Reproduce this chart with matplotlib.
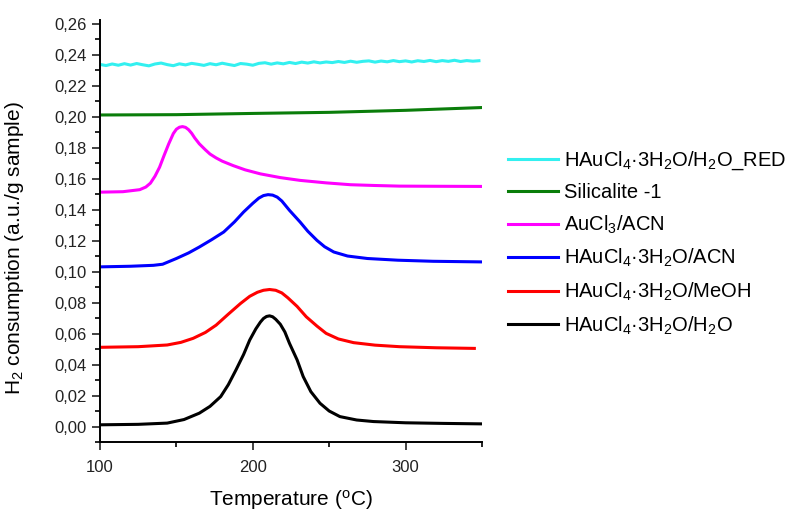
import matplotlib
matplotlib.use('Agg')
import matplotlib.pyplot as plt
from matplotlib.ticker import MultipleLocator, FuncFormatter

plt.rcParams['font.family'] = ['Liberation Sans', 'DejaVu Sans']
plt.rcParams['mathtext.fontset'] = 'custom'
plt.rcParams['mathtext.rm'] = 'Liberation Sans'
plt.rcParams['mathtext.it'] = 'Liberation Sans:italic'
plt.rcParams['mathtext.bf'] = 'Liberation Sans:bold'

# HAuCl4.3H2O/H2O_RED (cyan, noisy flat)
t_red = [100, 104, 108, 112, 116, 120, 124, 128, 132, 136, 140, 144, 148, 152, 156, 160,
         164, 168, 172, 176, 180, 184, 188, 192, 196, 200, 204, 208, 212, 216, 220, 224,
         228, 232, 236, 240, 244, 248, 252, 256, 260, 264, 268, 272, 276, 280, 284, 288,
         292, 296, 300, 304, 308, 312, 316, 320, 324, 328, 332, 336, 340, 344, 348]
y_red = [0.2336, 0.2329, 0.2339, 0.2331, 0.2341, 0.2332, 0.2342, 0.2334, 0.2327, 0.2339,
         0.2345, 0.2335, 0.2328, 0.2340, 0.2333, 0.2343, 0.2337, 0.2330, 0.2341, 0.2334,
         0.2344, 0.2336, 0.2329, 0.2342, 0.2338, 0.2331, 0.2343, 0.2347, 0.2338, 0.2346,
         0.2340, 0.2349, 0.2342, 0.2351, 0.2345, 0.2353, 0.2346, 0.2352, 0.2348, 0.2355,
         0.2349, 0.2357, 0.2350, 0.2356, 0.2359, 0.2351, 0.2358, 0.2353, 0.2361, 0.2354,
         0.2359, 0.2352, 0.2360, 0.2355, 0.2362, 0.2354, 0.2361, 0.2356, 0.2363, 0.2355,
         0.2361, 0.2357, 0.2360]

# Silicalite-1 (green)
t_sil = [100, 150, 200, 250, 300, 325, 350]
y_sil = [0.2010, 0.2012, 0.2020, 0.2027, 0.2040, 0.2049, 0.2058]

# AuCl3/ACN (magenta)
t_au = [100, 115, 126, 130, 133, 136, 139, 142, 145, 148, 150, 152, 154, 156, 158, 160,
        162, 165, 169, 172, 176, 180, 187, 195, 205, 218, 231, 248, 264, 280, 296, 320, 350]
y_au = [0.1512, 0.1515, 0.1528, 0.1545, 0.1570, 0.1615, 0.1673, 0.1750, 0.1824, 0.1890,
        0.1918, 0.1931, 0.1935, 0.1930, 0.1915, 0.1892, 0.1862, 0.1824, 0.1785, 0.1758,
        0.1733, 0.1712, 0.1684, 0.1656, 0.1630, 0.1606, 0.1588, 0.1572, 0.1560, 0.1555,
        0.1551, 0.1550, 0.1549]

# HAuCl4.3H2O/ACN (blue)
t_acn = [100, 120, 135, 141, 150, 158, 165, 173, 181, 188, 194, 200, 204, 207, 210, 213,
         216, 219, 224, 231, 236, 242, 247, 253, 262, 275, 295, 318, 350]
y_acn = [0.1030, 0.1034, 0.1040, 0.1047, 0.1084, 0.1120, 0.1158, 0.1205, 0.1255, 0.1320,
         0.1384, 0.1440, 0.1474, 0.1490, 0.1496, 0.1493, 0.1480, 0.1455, 0.1395, 0.1319,
         0.1260, 0.1201, 0.1160, 0.1126, 0.1100, 0.1084, 0.1073, 0.1066, 0.1062]

# HAuCl4.3H2O/MeOH (red)
t_meoh = [100, 125, 144, 153, 161, 169, 176, 184, 192, 198, 203, 207, 211, 215, 219, 223,
          229, 235, 242, 248, 256, 266, 280, 296, 320, 345]
y_meoh = [0.0511, 0.0515, 0.0526, 0.0543, 0.0569, 0.0607, 0.0654, 0.0725, 0.0794, 0.0840,
          0.0866, 0.0879, 0.0884, 0.0879, 0.0862, 0.0830, 0.0775, 0.0708, 0.0648, 0.0601,
          0.0565, 0.0541, 0.0525, 0.0515, 0.0508, 0.0504]

# HAuCl4.3H2O/H2O (black)
t_h2o = [100, 125, 144, 155, 165, 172, 179, 184, 189, 194, 198, 202, 205, 207, 209, 211,
         213, 215, 218, 221, 224, 229, 233, 238, 244, 250, 257, 268, 279, 300, 325, 350]
y_h2o = [0.0011, 0.0014, 0.0022, 0.0045, 0.0086, 0.0130, 0.0193, 0.0270, 0.0365, 0.0465,
         0.0558, 0.0630, 0.0674, 0.0697, 0.0710, 0.0714, 0.0708, 0.0692, 0.0660, 0.0610,
         0.0537, 0.0430, 0.0322, 0.0225, 0.0150, 0.0100, 0.0064, 0.0042, 0.0032, 0.0024,
         0.0020, 0.0017]

series = [
    (t_red, y_red, '#33f0f0', r'HAuCl$_4$·3H$_2$O/H$_2$O_RED'),
    (t_sil, y_sil, '#0a7d0a', 'Silicalite -1'),
    (t_au, y_au, '#ff00ff', r'AuCl$_3$/ACN'),
    (t_acn, y_acn, '#0000ff', r'HAuCl$_4$·3H$_2$O/ACN'),
    (t_meoh, y_meoh, '#ff0000', r'HAuCl$_4$·3H$_2$O/MeOH'),
    (t_h2o, y_h2o, '#000000', r'HAuCl$_4$·3H$_2$O/H$_2$O'),
]

fig = plt.figure(figsize=(7.96, 5.12), dpi=100)
ax = fig.add_axes([0.1256, 0.1367, 0.4799, 0.8243])

for t, y, c, lab in series:
    ax.plot(t, y, color=c, lw=2.2, label=lab)

ax.set_xlim(100, 350)
ax.set_ylim(-0.01, 0.2623)
ax.xaxis.set_major_locator(MultipleLocator(100))
ax.xaxis.set_minor_locator(MultipleLocator(50))
ax.yaxis.set_major_locator(MultipleLocator(0.02))
ax.yaxis.set_minor_locator(MultipleLocator(0.01))
ax.yaxis.set_major_formatter(FuncFormatter(lambda v, p: f'{v:.2f}'.replace('.', ',')))

for s in ['top', 'right']:
    ax.spines[s].set_visible(False)
for s in ['left', 'bottom']:
    ax.spines[s].set_linewidth(1.4)
ax.tick_params(which='major', direction='out', length=6, width=1.2, labelsize=12, colors='#222222')
ax.tick_params(which='minor', direction='out', length=3.5, width=1.2)
ax.tick_params(axis='x', pad=7)

ax.set_xlabel(r'Temperature ($^{\mathrm{o}}$C)', fontsize=15, labelpad=9)
ax.set_ylabel(r'H$_2$ consumption (a.u./g sample)', fontsize=15)
ax.yaxis.set_label_coords(-0.193, 0.46)

fig.legend(loc='upper left', bbox_to_anchor=(0.638, 0.708), frameon=False,
           fontsize=14.5, handlelength=2.5, handletextpad=0.3, labelspacing=0.56,
           borderpad=0, borderaxespad=0)

fig.savefig('out.png', dpi=100)
